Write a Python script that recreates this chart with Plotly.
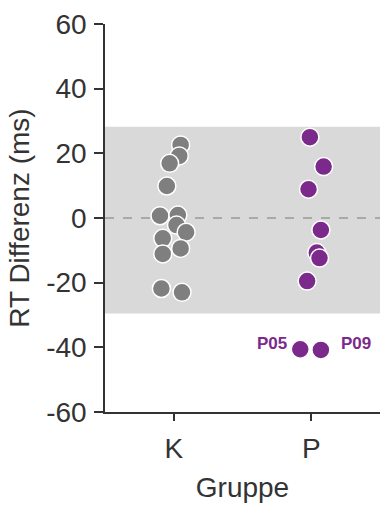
import plotly.graph_objects as go

# Data
k_y = [22.6, 19.2, 16.9, 9.9, 0.7, 0.9, -2.2, -4.4, -6.3, -9.4, -11.1, -21.8, -23.0]
k_jitter = [0.05, 0.04, -0.03, -0.05, -0.10, 0.03, 0.02, 0.09, -0.08, 0.05, -0.08, -0.09, 0.06]
p_y = [25.0, 15.9, 8.9, -3.7, -10.7, -12.4, -19.5]
p_jitter = [-0.01, 0.09, -0.02, 0.07, 0.04, 0.06, -0.03]
out_y = [-40.6, -40.8]
out_jitter = [-0.08, 0.07]
out_labels = ["P05", "P09"]
band = [-29.5, 28.2]
groups = ["K", "P"]
y_ticks = [-60, -40, -20, 0, 20, 40, 60]
y_ticktext = ["-60", "-40", "-20", "0", "20", "40", "60"]

GRAY = "#7f7f7f"
PURPLE = "#7b2a8c"
TXT = "#333333"
FONT = "Liberation Sans"

fig = go.Figure()

fig.add_shape(type="rect", xref="x", yref="y", x0=-0.5, x1=1.5, y0=band[0], y1=band[1],
              fillcolor="#d9d9d9", line_width=0, layer="below")
fig.add_shape(type="line", xref="x", yref="y", x0=-0.5, x1=1.5, y0=0, y1=0,
              line=dict(color="#999999", width=1.5, dash="dash"), layer="below")

mk = lambda c: dict(size=18, color=c, line=dict(color="white", width=1.5))

fig.add_trace(go.Scatter(x=[0 + j for j in k_jitter], y=k_y, mode="markers",
                         marker=mk(GRAY), showlegend=False))
fig.add_trace(go.Scatter(x=[1 + j for j in p_jitter], y=p_y, mode="markers",
                         marker=mk(PURPLE), showlegend=False))
fig.add_trace(go.Scatter(x=[1 + j for j in out_jitter], y=out_y, mode="markers",
                         marker=mk(PURPLE), showlegend=False))

for i, lab in enumerate(out_labels):
    left = i == 0
    fig.add_annotation(x=1 + out_jitter[i], y=out_y[i], xref="x", yref="y", text=f"<b>{lab}</b>",
                       showarrow=False, xanchor="right" if left else "left", yanchor="middle",
                       xshift=-11 if left else 18, yshift=6,
                       font=dict(family=FONT, size=17, color=PURPLE))

axis_common = dict(showline=True, linecolor=TXT, linewidth=1.5, ticks="outside",
                   tickcolor=TXT, tickwidth=1.5, showgrid=False, zeroline=False,
                   tickfont=dict(family=FONT, size=28, color=TXT),
                   title_font=dict(family=FONT, size=28, color=TXT))

fig.update_xaxes(range=[-0.5, 1.5], tickvals=[0, 1], ticktext=groups, ticklen=7,
                 ticklabelstandoff=4, title_text="Gruppe", title_standoff=14, **axis_common)
fig.update_yaxes(range=[-60, 60], tickvals=y_ticks, ticktext=y_ticktext, ticklen=9,
                 ticklabelstandoff=2, title_text="RT Differenz (ms)", title_standoff=8, **axis_common)

fig.update_layout(width=380, height=506, margin=dict(l=105, r=0, t=24, b=94),
                  plot_bgcolor="white", paper_bgcolor="white")

fig.write_html("out.html")
